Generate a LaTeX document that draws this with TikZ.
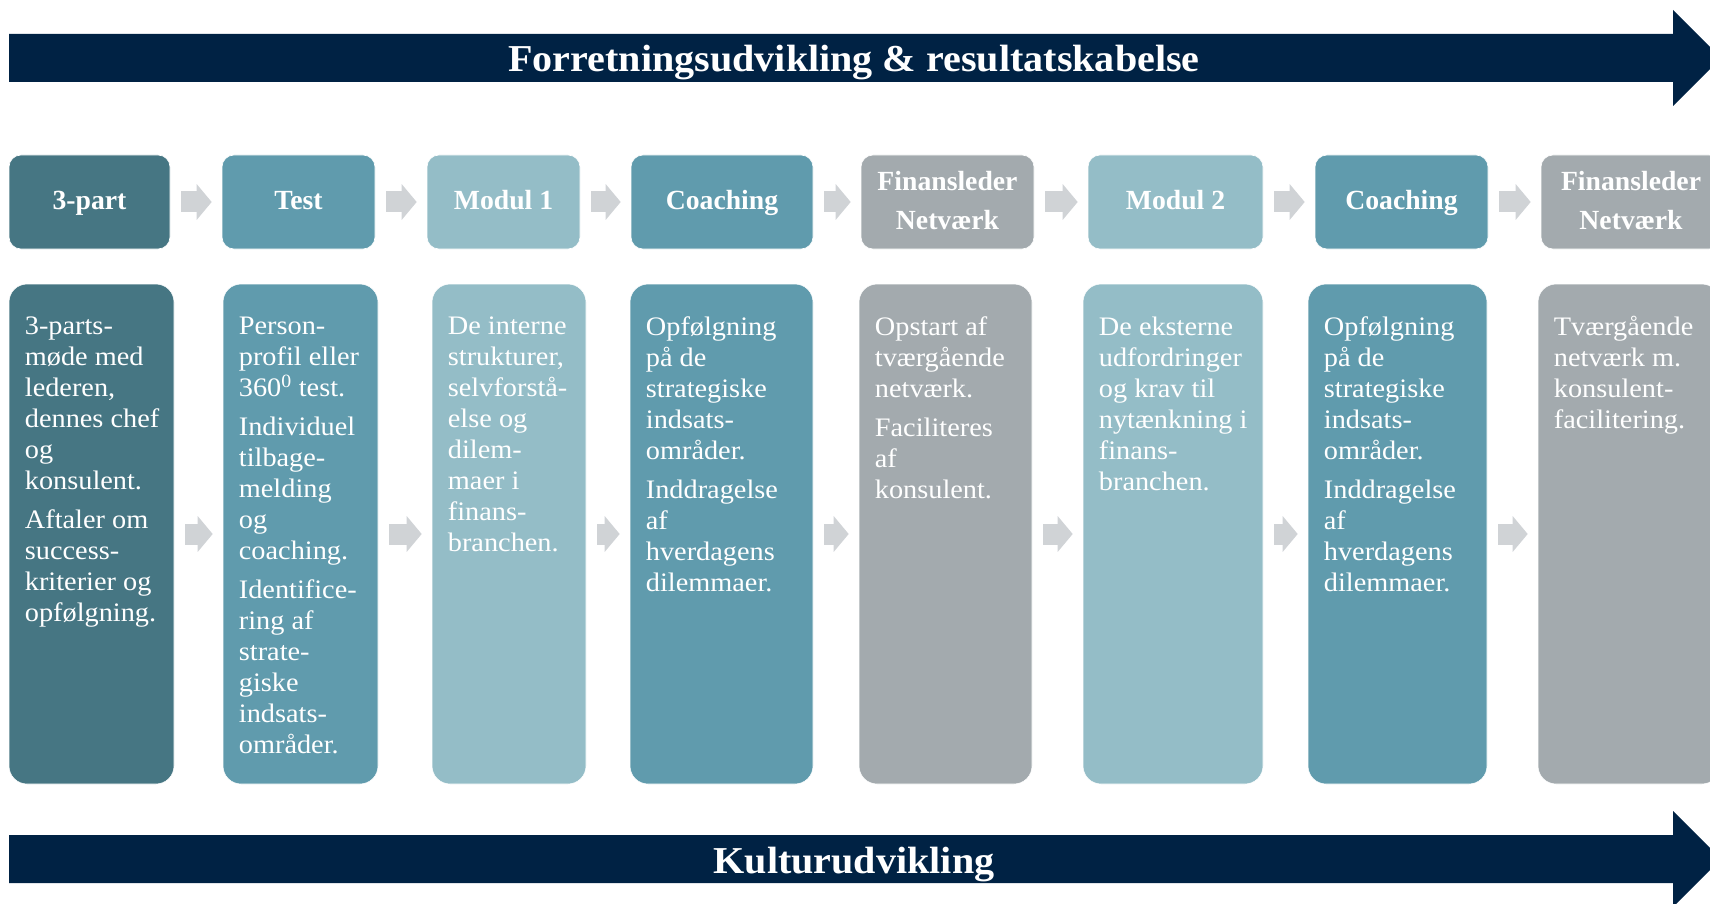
\documentclass[tikz,border=0pt]{standalone}
\usepackage{fontspec}
\setmainfont{Liberation Serif}
\usetikzlibrary{arrows.meta}

\definecolor{navyband}{RGB}{0,34,68}
\definecolor{tealdark}{RGB}{70,118,131}
\definecolor{tealmid}{RGB}{96,155,173}
\definecolor{teallight}{RGB}{148,189,199}
\definecolor{slategray}{RGB}{163,170,174}
\definecolor{stepgray}{RGB}{208,211,214}

\begin{document}
\begin{tikzpicture}[x=1pt, y=-1pt,
    hdr/.style={rounded corners=12pt, draw=white, line width=0.6pt, minimum height=94pt, inner sep=0pt, text=white, align=center, font=\fontsize{27.7}{39}\selectfont\bfseries, execute at begin node=\strut, execute at end node=\strut},
    hdrlabel/.style={inner sep=0pt, text=white, align=center, font=\fontsize{27.7}{39}\selectfont\bfseries},
    body/.style={rounded corners=18pt, draw=white, line width=0.6pt, minimum height=500pt, inner sep=0pt},
    bodytext/.style={anchor=north west, inner sep=0pt, xscale=1.06, text=white, align=left, font=\fontsize{26.7}{31}\selectfont, execute at begin node=\strut},
    steparrow/.style={draw=stepgray, line width=21pt, -{Triangle[length=15pt, width=35pt]}, shorten <=11pt, shorten >=10pt},
    banner/.style={text=white, anchor=base, inner sep=0pt, xscale=1.055, font=\fontsize{38}{44}\selectfont\bfseries}]
    \useasboundingbox (0, 0) rectangle (1710, 904);

    % top band
    \fill[navyband] (9, 34) -- (1673, 34) -- (1673, 10) -- (1721, 58) -- (1673, 106) -- (1673, 82) -- (9, 82) -- cycle;
    \node[banner] (toptitle) at (854, 71.5) {Forretningsudvikling \& resultatskabelse};

    % bottom band
    \fill[navyband] (9, 835) -- (1673, 835) -- (1673, 811) -- (1721, 859) -- (1673, 907) -- (1673, 883) -- (9, 883) -- cycle;
    \node[banner] (bottomtitle) at (854, 873) {Kulturudvikling};

    % headers
    \node[hdr, fill=tealdark, minimum width=161pt] (h1) at (89.5, 202) {3-part};
    \node[hdr, fill=tealmid, minimum width=153pt] (h2) at (298.5, 202) {Test};
    \node[hdr, fill=teallight, minimum width=153pt] (h3) at (503.5, 202) {Modul 1};
    \node[hdr, fill=tealmid, minimum width=182pt] (h4) at (722, 202) {Coaching};
    \node[hdr, fill=slategray, minimum width=173pt] (h5) at (947.5, 202) {};
    \node[hdrlabel] (h5label) at ([yshift=1.3pt]h5.center) {Finansleder\\Netværk};
    \node[hdr, fill=teallight, minimum width=175pt] (h6) at (1175.5, 202) {Modul 2};
    \node[hdr, fill=tealmid, minimum width=173pt] (h7) at (1401.5, 202) {Coaching};
    \node[hdr, fill=slategray, minimum width=180pt] (h8) at (1631, 202) {};
    \node[hdrlabel] (h8label) at ([yshift=1.3pt]h8.center) {Finansleder\\Netværk};

    % bodies
    \node[body, fill=tealdark, minimum width=165pt] (b1) at (91.5, 534) {};
    \node[bodytext] (b1text) at ([xshift=16pt, yshift=-32.7pt]b1.north west) {3-parts-\\møde med\\lederen,\\dennes chef\\og\\konsulent.\\[8pt]Aftaler om\\success-\\kriterier og\\opfølgning.};

    \node[body, fill=tealmid, minimum width=155pt] (b2) at (300.5, 534) {};
    \node[bodytext] (b2text) at ([xshift=16pt, yshift=-32.7pt]b2.north west) {Person-\\profil eller\\360\textsuperscript{0} test.\\[8pt]Individuel\\tilbage-\\melding\\og\\coaching.\\[8pt]Identifice-\\ring af\\strate-\\giske\\indsats-\\områder.};

    \node[body, fill=teallight, minimum width=154pt] (b3) at (509, 534) {};
    \node[bodytext] (b3text) at ([xshift=16pt, yshift=-32.7pt]b3.north west) {De interne\\strukturer,\\selvforstå-\\else og\\dilem-\\maer i\\finans-\\branchen.};

    \node[body, fill=tealmid, minimum width=183pt] (b4) at (721.5, 534) {};
    \node[bodytext] (b4text) at ([xshift=16pt, yshift=-32.7pt]b4.north west) {Opfølgning\\på de\\strategiske\\indsats-\\områder.\\[8pt]Inddragelse\\af\\hverdagens\\dilemmaer.};

    \node[body, fill=slategray, minimum width=173pt] (b5) at (945.5, 534) {};
    \node[bodytext] (b5text) at ([xshift=16pt, yshift=-32.7pt]b5.north west) {Opstart af\\tværgående\\netværk.\\[8pt]Faciliteres\\af\\konsulent.};

    \node[body, fill=teallight, minimum width=180pt] (b6) at (1173, 534) {};
    \node[bodytext] (b6text) at ([xshift=16pt, yshift=-32.7pt]b6.north west) {De eksterne\\udfordringer\\og krav til\\nytænkning i\\finans-\\branchen.};

    \node[body, fill=tealmid, minimum width=179pt] (b7) at (1397.5, 534) {};
    \node[bodytext] (b7text) at ([xshift=16pt, yshift=-32.7pt]b7.north west) {Opfølgning\\på de\\strategiske\\indsats-\\områder.\\[8pt]Inddragelse\\af\\hverdagens\\dilemmaer.};

    \node[body, fill=slategray, minimum width=182pt] (b8) at (1629, 534) {};
    \node[bodytext] (b8text) at ([xshift=16pt, yshift=-32.7pt]b8.north west) {Tværgående\\netværk m.\\konsulent-\\facilitering.};

    % header steps
    \draw[steparrow] (h1) -- (h2);
    \draw[steparrow] (h2) -- (h3);
    \draw[steparrow] (h3) -- (h4);
    \draw[steparrow] (h4) -- (h5);
    \draw[steparrow] (h5) -- (h6);
    \draw[steparrow] (h6) -- (h7);
    \draw[steparrow] (h7) -- (h8);

    % body steps
    \draw[steparrow] (b1) -- (b2);
    \draw[steparrow] (b2) -- (b3);
    \draw[steparrow] (b3) -- (b4);
    \draw[steparrow] (b4) -- (b5);
    \draw[steparrow] (b5) -- (b6);
    \draw[steparrow] (b6) -- (b7);
    \draw[steparrow] (b7) -- (b8);
\end{tikzpicture}
\end{document}
